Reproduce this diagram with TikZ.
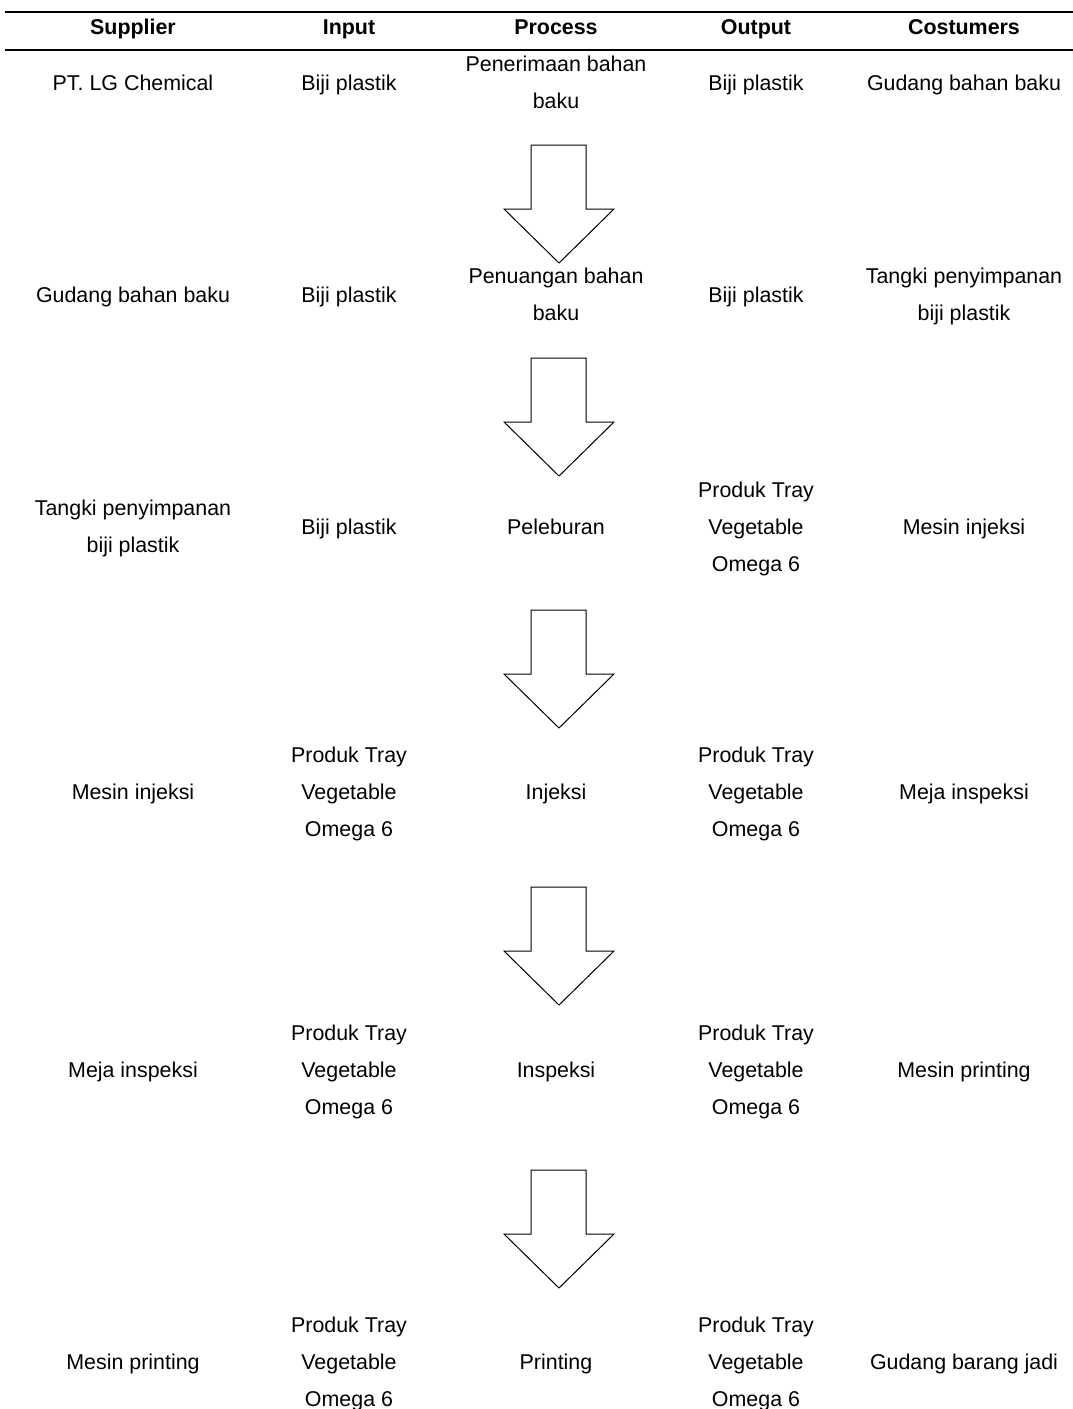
\documentclass[tikz,border=0pt]{standalone}
\usepackage{fontspec}
\setmainfont{Liberation Sans}
\tikzset{
  cell/.style={align=center,inner sep=0pt,font=\fontsize{21.4}{37}\selectfont,
    execute at begin node=\strut,execute at end node=\strut},
  multicell/.style={cell,yshift=-5pt},
  head/.style={cell,font=\fontsize{21.4}{37}\selectfont\bfseries},
  rule/.style={line width=2pt},
  flow/.style={draw,line width=1pt,fill=white}
}
\begin{document}
\begin{tikzpicture}[x=1pt,y=-1pt]
\useasboundingbox (0,0) rectangle (1073,1409);
% header
\draw[rule](5,12)--(1073,12);
\draw[rule](5,50)--(1073,50);
\node[head] (hs) at (133,27) {Supplier};
\node[head] (hi) at (349,27) {Input};
\node[head] (hp) at (556,27) {Process};
\node[head] (ho) at (756,27) {Output};
\node[head] (hc) at (964,27) {Costumers};
% row 1
\node[cell] (s1) at (133,83) {PT. LG Chemical};
\node[cell] (i1) at (349,83) {Biji plastik};
\node[multicell] (p1) at (556,83) {Penerimaan bahan\\baku};
\node[cell] (o1) at (756,83) {Biji plastik};
\node[cell] (c1) at (964,83) {Gudang bahan baku};
% row 2
\node[cell] (s2) at (133,295) {Gudang bahan baku};
\node[cell] (i2) at (349,295) {Biji plastik};
\node[multicell] (p2) at (556,295) {Penuangan bahan\\baku};
\node[cell] (o2) at (756,295) {Biji plastik};
\node[multicell] (c2) at (964,295) {Tangki penyimpanan\\biji plastik};
% row 3
\node[multicell] (s3) at (133,527) {Tangki penyimpanan\\biji plastik};
\node[cell] (i3) at (349,527) {Biji plastik};
\node[cell] (p3) at (556,527) {Peleburan};
\node[multicell] (o3) at (756,527) {Produk Tray\\Vegetable\\Omega 6};
\node[cell] (c3) at (964,527) {Mesin injeksi};
% row 4
\node[cell] (s4) at (133,792) {Mesin injeksi};
\node[multicell] (i4) at (349,792) {Produk Tray\\Vegetable\\Omega 6};
\node[cell] (p4) at (556,792) {Injeksi};
\node[multicell] (o4) at (756,792) {Produk Tray\\Vegetable\\Omega 6};
\node[cell] (c4) at (964,792) {Meja inspeksi};
% row 5
\node[cell] (s5) at (133,1070) {Meja inspeksi};
\node[multicell] (i5) at (349,1070) {Produk Tray\\Vegetable\\Omega 6};
\node[cell] (p5) at (556,1070) {Inspeksi};
\node[multicell] (o5) at (756,1070) {Produk Tray\\Vegetable\\Omega 6};
\node[cell] (c5) at (964,1070) {Mesin printing};
% row 6
\node[cell] (s6) at (133,1362) {Mesin printing};
\node[multicell] (i6) at (349,1362) {Produk Tray\\Vegetable\\Omega 6};
\node[cell] (p6) at (556,1362) {Printing};
\node[multicell] (o6) at (756,1362) {Produk Tray\\Vegetable\\Omega 6};
\node[cell] (c6) at (964,1362) {Gudang barang jadi};
% block arrows between processes
\foreach \t in {145,358,610,887,1170}
  {\draw[flow](531,\t)--(586,\t)--(586,\t+64)--(614,\t+64)--(559,\t+118)
     --(504,\t+64)--(531,\t+64)--cycle;}
\end{tikzpicture}
\end{document}
